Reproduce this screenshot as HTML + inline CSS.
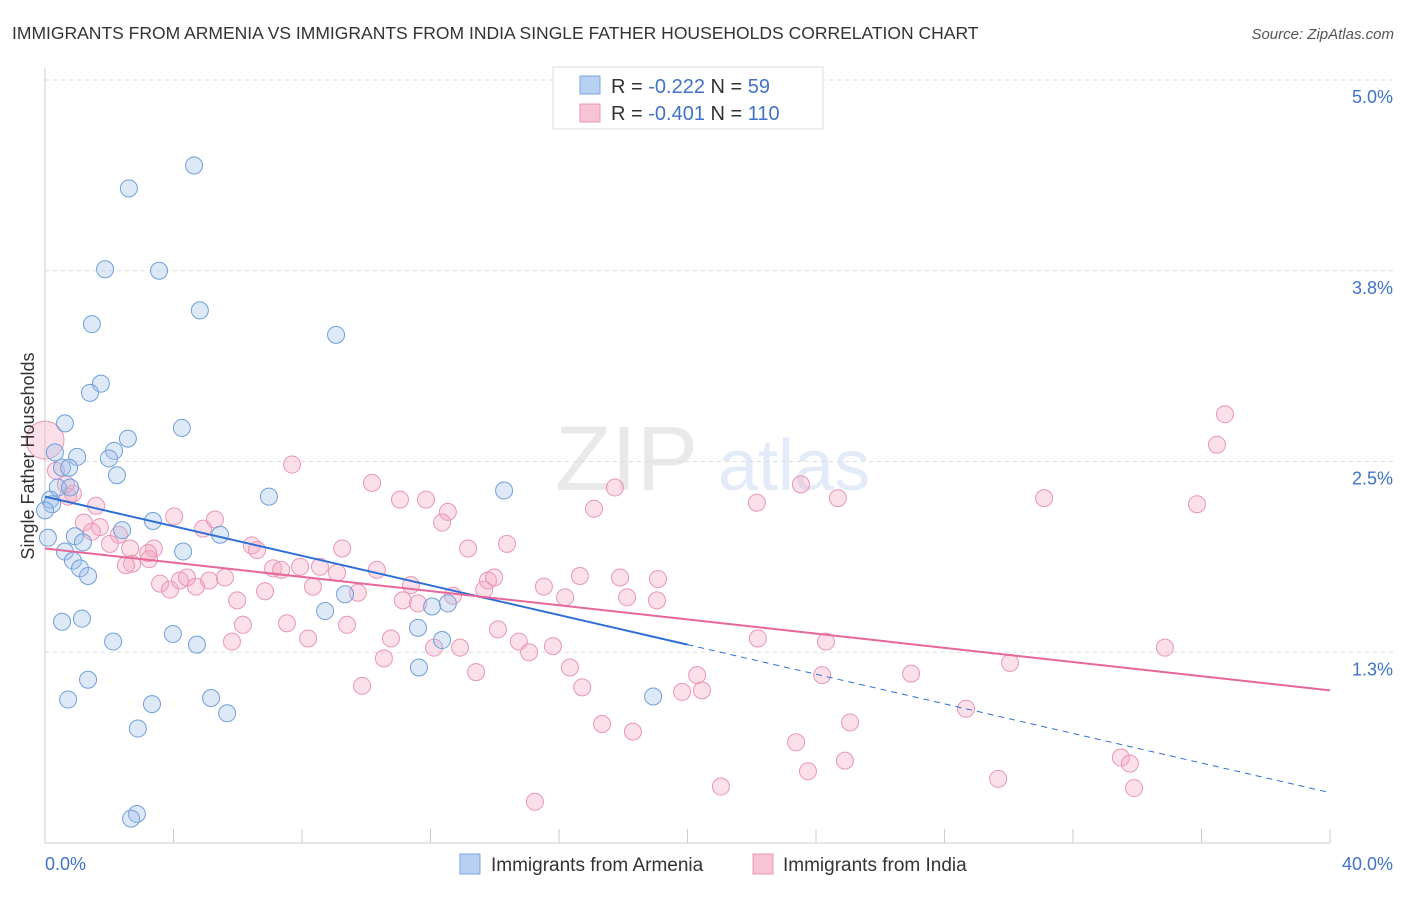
<!DOCTYPE html>
<html><head><meta charset="utf-8"><style>
body{margin:0;background:#fff;font-family:"Liberation Sans",sans-serif;}
svg text{font-family:"Liberation Sans",sans-serif;}
</style></head><body>
<svg id="chart" width="1406" height="892" xmlns="http://www.w3.org/2000/svg">
<text x="12" y="39" font-size="17.5" fill="#333">IMMIGRANTS FROM ARMENIA VS IMMIGRANTS FROM INDIA SINGLE FATHER HOUSEHOLDS CORRELATION CHART</text>
<text x="1394" y="39" font-size="15" fill="#555" text-anchor="end" font-style="italic">Source: ZipAtlas.com</text>
<g opacity="0.25">
<text x="555" y="490" font-size="92" fill="#aaa" font-family="Liberation Serif">ZIP</text>
<text x="718" y="490" font-size="72" fill="#8fb3e0">atlas</text>
</g>
<g id="grid"></g>
<g id="axes"></g>
<g id="marks"></g>
<g id="trends"></g>
<text transform="translate(34,456) rotate(-90)" font-size="18" fill="#333" text-anchor="middle">Single Father Households</text>
<g>
<rect x="553" y="67" width="270" height="62" fill="#fff" stroke="#ddd"/>
<rect x="580" y="76" width="20" height="18" fill="#b8d0f2" stroke="#7aa6de"/>
<rect x="580" y="104" width="20" height="18" fill="#f8c3d4" stroke="#e89ab4"/>
<text x="611" y="93" font-size="20" fill="#333">R = <tspan fill="#3f73c8">-0.222</tspan>   N =  <tspan fill="#3f73c8"> 59</tspan></text>
<text x="611" y="120" font-size="20" fill="#333">R = <tspan fill="#3f73c8">-0.401</tspan>   N = <tspan fill="#3f73c8">110</tspan></text>
</g>
<g>
<rect x="460" y="854" width="20" height="20" fill="#b8d0f2" stroke="#7aa6de"/>
<text x="491" y="871" font-size="19" fill="#333">Immigrants from Armenia</text>
<rect x="753" y="854" width="20" height="20" fill="#f8c3d4" stroke="#e89ab4"/>
<text x="783" y="871" font-size="19" fill="#333">Immigrants from India</text>
</g>
</svg>
<script>
const xTicks=[0,4,8,12,16,20,24,28,32,36,40];
const yTicks=[1.25,2.5,3.75,5.0];
const yTickLabels=["1.3%","2.5%","3.8%","5.0%"];
const armeniaX=[4.64,2.61,1.87,3.55,1.46,4.82,9.06,1.74,1.40,0.62,4.26,2.58,0.31,1.00,2.15,1.99,0.53,0.75,2.24,0.40,0.78,6.97,14.29,0.16,0.22,0.0,3.36,2.40,5.45,0.93,1.18,0.09,0.62,4.30,0.87,1.09,1.34,9.34,8.72,12.05,12.54,11.61,0.53,1.15,3.98,2.12,4.73,12.36,11.64,1.34,0.72,5.17,3.33,5.67,2.89,18.93,2.86,2.68];
const armeniaY=[4.44,4.29,3.76,3.75,3.40,3.49,3.33,3.01,2.95,2.75,2.72,2.65,2.56,2.53,2.57,2.52,2.46,2.46,2.41,2.33,2.33,2.27,2.31,2.25,2.22,2.18,2.11,2.05,2.02,2.01,1.97,2.00,1.91,1.91,1.85,1.80,1.75,1.63,1.52,1.55,1.57,1.41,1.45,1.47,1.37,1.32,1.30,1.33,1.15,1.07,0.94,0.95,0.91,0.85,0.75,0.96,0.19,0.16];
const indiaX=[0,7.69,10.18,11.05,11.86,12.54,12.36,13.17,14.38,17.74,17.09,22.16,23.53,24.68,31.10,35.86,36.48,36.73,1.21,1.71,1.46,2.30,2.02,2.65,3.39,4.02,4.92,5.29,6.44,6.60,0.87,0.72,1.59,0.65,0.34,9.25,2.71,2.52,3.24,3.21,3.58,3.89,4.20,4.42,4.70,5.11,5.60,5.98,6.85,7.10,7.35,7.94,8.56,9.09,9.74,8.34,10.33,11.39,11.14,11.61,12.70,13.79,13.98,13.67,15.53,16.19,16.65,17.90,18.12,19.08,19.05,6.16,7.53,8.19,9.40,10.77,10.55,12.11,12.92,14.10,14.75,15.07,15.81,16.34,13.42,9.87,16.72,19.83,20.45,20.30,22.19,24.31,24.19,26.96,30.04,34.86,17.34,18.30,21.04,23.38,23.75,24.90,25.06,28.67,29.67,33.49,33.77,33.90,15.25,5.82];
const indiaY=[2.64,2.48,2.36,2.25,2.25,2.17,2.10,1.93,1.96,2.33,2.19,2.23,2.35,2.26,2.26,2.22,2.61,2.81,2.10,2.07,2.04,2.02,1.96,1.93,1.93,2.14,2.06,2.12,1.95,1.92,2.29,2.27,2.21,2.35,2.44,1.93,1.83,1.82,1.86,1.90,1.70,1.66,1.72,1.74,1.68,1.72,1.74,1.59,1.65,1.80,1.79,1.81,1.81,1.77,1.64,1.68,1.79,1.69,1.59,1.57,1.62,1.72,1.74,1.66,1.68,1.61,1.75,1.74,1.61,1.73,1.59,1.43,1.44,1.34,1.43,1.34,1.21,1.28,1.28,1.40,1.32,1.25,1.29,1.15,1.12,1.03,1.02,0.99,1.00,1.10,1.34,1.32,1.10,1.11,1.18,1.28,0.78,0.73,0.37,0.66,0.47,0.54,0.79,0.88,0.42,0.56,0.52,0.36,0.27,1.32];
const armeniaTrend=[2.27,0.33];
const indiaTrend=[1.93,1.00];
const NS="http://www.w3.org/2000/svg";
const X0=45,X1=1330,Y0=843,Y1=80;
function sx(v){return X0+(v-0)/40*(X1-X0);}
function sy(v){return Y0-(v/5)*(Y0-Y1);}
function mk(tag,attrs,parent){const e=document.createElementNS(NS,tag);for(const k in attrs)e.setAttribute(k,attrs[k]);parent.appendChild(e);return e;}
const grid=document.getElementById('grid'),axes=document.getElementById('axes'),marks=document.getElementById('marks'),trends=document.getElementById('trends');
yTicks.forEach((t,i)=>{
 const l=mk('line',{x1:X0,x2:1394,y1:sy(t),y2:sy(t),stroke:'#ddd','stroke-dasharray':'4,4'},grid);
 
 
 const tx=mk('text',{x:1393,y:sy(t)+23,'font-size':18,fill:'#3f73c8','text-anchor':'end'},axes);
 tx.textContent=yTickLabels[i];
 
 
});
const ax=mk('line',{x1:X0,x2:X1,y1:Y0,y2:Y0,stroke:'#ccc'},axes);


const ayl=mk('line',{x1:X0,x2:X0,y1:68,y2:Y0,stroke:'#ccc'},axes);


xTicks.forEach(t=>{
 const l=mk('line',{x1:sx(t),x2:sx(t),y1:Y0,y2:Y0-14,stroke:'#ccc'},axes);
 
 
});
const xl0=mk('text',{x:45,y:870,'font-size':18,fill:'#3f73c8'},axes);xl0.textContent='0.0%';


const xl1=mk('text',{x:1393,y:870,'font-size':18,fill:'#3f73c8','text-anchor':'end'},axes);xl1.textContent='40.0%';


indiaX.forEach((v,i)=>{
 const c=mk('circle',{cx:sx(v),cy:sy(indiaY[i]),r:(i===0?19:8.5),fill:'rgba(244,166,192,0.35)',stroke:'#ea96b2','stroke-width':1},marks);
 
 
});
armeniaX.forEach((v,i)=>{
 const c=mk('circle',{cx:sx(v),cy:sy(armeniaY[i]),r:8.5,fill:'rgba(160,192,236,0.35)',stroke:'#6f9fdc','stroke-width':1},marks);
 
 
});
function ta(x){return armeniaTrend[0]+(armeniaTrend[1]-armeniaTrend[0])*x/40;}
const t1=mk('line',{x1:sx(0),y1:sy(ta(0)),x2:sx(20),y2:sy(ta(20)),stroke:'#2e6fd6','stroke-width':2},trends);


const t2=mk('line',{x1:sx(20),y1:sy(ta(20)),x2:sx(40),y2:sy(ta(40)),stroke:'#2e6fd6','stroke-width':1,'stroke-dasharray':'6,5'},trends);


const t3=mk('line',{x1:sx(0),y1:sy(indiaTrend[0]),x2:sx(40),y2:sy(indiaTrend[1]),stroke:'#e8679a','stroke-width':2},trends);


</script>
</body></html>
